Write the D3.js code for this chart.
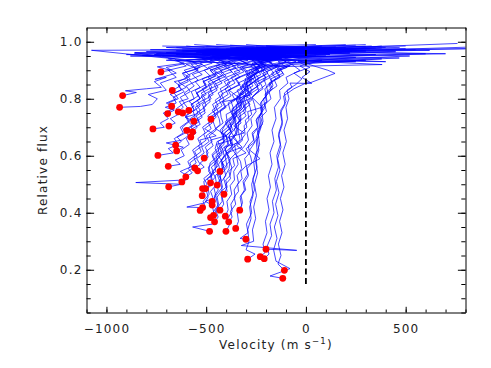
<!DOCTYPE html>
<html>
<head>
<meta charset="utf-8">
<script src="https://d3js.org/d3.v7.min.js"></script>
<style>
body { margin: 0; background: #fff; }
text { font-family: 'DejaVu Sans', sans-serif; font-size: 12px; letter-spacing: 1.2px; fill: #222; }
.axis path, .axis line { stroke: #000; stroke-width: 1; }
</style>
</head>
<body>
<script>
// line bisectors: [velocity (m/s), relative flux]; the first point of each is its lowest point (red dot)
const bisectors = [
  [[-727,0.894],[-680,0.90],[-745,0.912],[-610,0.925],[-690,0.94],[-480,0.952],[-800,0.965],[-250,0.975],[-560,0.99]],
  [[-919,0.811],[-850,0.822],[-905,0.828],[-800,0.835],[-725,0.84],[-760,0.86],[-700,0.875],[-757,0.868],[-650,0.89],[-700,0.91],[-560,0.93],[-858,0.962],[-350,0.97],[-600,0.985]],
  [[-934,0.770],[-830,0.773],[-770,0.78],[-745,0.80],[-790,0.815],[-700,0.83],[-730,0.855],[-650,0.875],[-690,0.90],[-600,0.915],[-660,0.94],[-1075,0.970],[850,0.975]],
  [[-670,0.829],[-630,0.845],[-660,0.86],[-600,0.87],[-620,0.89],[-540,0.905],[-600,0.92],[-470,0.94],[-650,0.955],[-300,0.968],[-700,0.98],[50,0.99]],
  [[-673,0.774],[-700,0.785],[-650,0.80],[-680,0.815],[-625,0.83],[-640,0.85],[-580,0.87],[-615,0.89],[-530,0.91],[-570,0.93],[-420,0.948],[-700,0.96],[0,0.978]],
  [[-693,0.748],[-660,0.76],[-705,0.77],[-650,0.785],[-665,0.805],[-610,0.825],[-640,0.845],[-590,0.86],[-600,0.88],[-540,0.90],[-575,0.92],[-430,0.94],[-760,0.955],[-150,0.968],[-500,0.982]],
  [[-640,0.754],[-615,0.77],[-635,0.79],[-590,0.80],[-610,0.82],[-560,0.845],[-585,0.865],[-520,0.885],[-560,0.905],[-470,0.925],[-520,0.94],[-300,0.955],[-620,0.968],[300,0.984]],
  [[-618,0.750],[-590,0.765],[-612,0.785],[-560,0.80],[-575,0.825],[-530,0.84],[-555,0.86],[-480,0.88],[-510,0.9],[-430,0.92],[-480,0.935],[-200,0.952],[-520,0.965],[-50,0.98]],
  [[-587,0.759],[-560,0.775],[-585,0.79],[-540,0.81],[-555,0.83],[-500,0.85],[-520,0.87],[-450,0.89],[-490,0.91],[-380,0.93],[-560,0.945],[-150,0.96],[-480,0.972],[200,0.99]],
  [[-562,0.721],[-605,0.735],[-555,0.745],[-530,0.76],[-550,0.78],[-505,0.80],[-525,0.82],[-470,0.84],[-490,0.86],[-420,0.88],[-460,0.90],[-370,0.92],[-430,0.935],[-100,0.95],[-550,0.963],[350,0.978]],
  [[-476,0.728],[-455,0.745],[-470,0.76],[-440,0.775],[-455,0.795],[-415,0.815],[-430,0.835],[-380,0.855],[-400,0.875],[-330,0.895],[-370,0.915],[-260,0.935],[-430,0.95],[100,0.965],[-350,0.98]],
  [[-767,0.694],[-710,0.70],[-730,0.715],[-690,0.73],[-715,0.75],[-660,0.765],[-690,0.785],[-640,0.80],[-660,0.82],[-600,0.84],[-640,0.86],[-580,0.88],[-610,0.90],[-520,0.92],[-600,0.935],[-380,0.95],[-700,0.962],[-100,0.975],[-450,0.99]],
  [[-687,0.704],[-655,0.715],[-680,0.73],[-640,0.745],[-650,0.765],[-610,0.785],[-630,0.805],[-580,0.825],[-600,0.845],[-540,0.865],[-570,0.885],[-490,0.905],[-530,0.925],[-400,0.94],[-600,0.955],[-200,0.968],[400,0.98]],
  [[-597,0.689],[-570,0.705],[-590,0.72],[-555,0.735],[-565,0.755],[-530,0.775],[-545,0.795],[-500,0.815],[-520,0.835],[-460,0.855],[-490,0.875],[-420,0.895],[-450,0.915],[-330,0.935],[-480,0.95],[-50,0.965],[-380,0.978],[250,0.988]],
  [[-568,0.684],[-545,0.70],[-560,0.715],[-520,0.735],[-535,0.755],[-500,0.775],[-510,0.795],[-465,0.815],[-480,0.835],[-420,0.855],[-445,0.875],[-370,0.895],[-410,0.915],[-290,0.935],[-470,0.95],[150,0.965],[-250,0.985]],
  [[-577,0.666],[-550,0.68],[-570,0.695],[-530,0.71],[-545,0.73],[-505,0.75],[-515,0.77],[-480,0.79],[-490,0.81],[-445,0.83],[-460,0.85],[-400,0.87],[-425,0.89],[-350,0.91],[-390,0.93],[-250,0.948],[-520,0.96],[760,0.994]],
  [[-653,0.637],[-625,0.65],[-645,0.665],[-605,0.68],[-620,0.70],[-585,0.72],[-600,0.74],[-560,0.76],[-575,0.78],[-530,0.80],[-550,0.82],[-500,0.84],[-515,0.86],[-450,0.88],[-480,0.90],[-400,0.92],[-460,0.94],[-250,0.955],[-650,0.968],[150,0.982]],
  [[-648,0.617],[-615,0.63],[-700,0.645],[-620,0.655],[-590,0.67],[-605,0.69],[-565,0.71],[-580,0.73],[-540,0.75],[-555,0.77],[-510,0.79],[-525,0.81],[-475,0.83],[-490,0.85],[-430,0.87],[-455,0.89],[-380,0.91],[-420,0.93],[-200,0.948],[-520,0.96],[0,0.972],[-380,0.988]],
  [[-742,0.601],[-665,0.61],[-690,0.625],[-640,0.64],[-660,0.66],[-615,0.68],[-630,0.70],[-590,0.72],[-605,0.74],[-560,0.76],[-575,0.78],[-530,0.80],[-545,0.82],[-495,0.84],[-515,0.86],[-455,0.88],[-480,0.90],[-400,0.92],[-440,0.94],[-180,0.955],[-600,0.968],[200,0.98]],
  [[-510,0.592],[-490,0.61],[-505,0.63],[-470,0.65],[-485,0.67],[-450,0.69],[-460,0.71],[-470,0.73],[-440,0.75],[-400,0.77],[-415,0.79],[-330,0.80],[-385,0.83],[-330,0.85],[-350,0.87],[-280,0.89],[-320,0.91],[382,0.92],[-380,0.945],[0,0.96],[-450,0.972],[470,0.98]],
  [[-690,0.563],[-630,0.57],[-655,0.585],[-610,0.60],[-625,0.62],[-585,0.64],[-600,0.66],[-560,0.68],[-575,0.70],[-535,0.72],[-550,0.74],[-505,0.76],[-520,0.78],[-475,0.80],[-490,0.82],[-440,0.84],[-460,0.86],[-400,0.88],[-430,0.90],[-340,0.92],[-390,0.94],[-120,0.955],[-560,0.966],[300,0.99]],
  [[-557,0.557],[-530,0.57],[-548,0.59],[-510,0.61],[-522,0.63],[-485,0.65],[-500,0.67],[-460,0.69],[-430,0.71],[-435,0.73],[-448,0.75],[-405,0.77],[-420,0.79],[-375,0.81],[-390,0.83],[-335,0.85],[-355,0.87],[-290,0.89],[-330,0.91],[-220,0.93],[-300,0.945],[50,0.96],[-400,0.975]],
  [[-543,0.547],[-510,0.56],[-530,0.575],[-490,0.595],[-500,0.615],[-465,0.635],[-478,0.655],[-400,0.67],[-452,0.695],[-415,0.715],[-425,0.735],[-430,0.76],[-400,0.775],[-355,0.795],[-370,0.815],[-320,0.835],[-340,0.855],[-280,0.875],[-305,0.895],[-230,0.915],[-270,0.935],[-80,0.95],[-350,0.965],[500,0.976]],
  [[-431,0.545],[-410,0.565],[-425,0.585],[-395,0.605],[-405,0.625],[-375,0.645],[-385,0.665],[-310,0.68],[-362,0.705],[-325,0.725],[-338,0.745],[-300,0.765],[-312,0.785],[-310,0.81],[-285,0.825],[-240,0.845],[-255,0.865],[-200,0.885],[-225,0.905],[-150,0.925],[468,0.943],[-280,0.955],[100,0.968],[380,0.985]],
  [[-602,0.526],[-570,0.54],[-590,0.555],[-550,0.575],[-562,0.595],[-525,0.615],[-538,0.635],[-500,0.655],[-512,0.675],[-475,0.695],[-488,0.715],[-450,0.735],[-462,0.755],[-420,0.775],[-435,0.795],[-390,0.815],[-405,0.835],[-355,0.855],[-375,0.875],[-310,0.895],[-345,0.915],[-250,0.935],[-420,0.95],[-20,0.965],[-650,0.98]],
  [[-622,0.508],[-590,0.52],[-610,0.535],[-570,0.555],[-582,0.575],[-545,0.595],[-558,0.615],[-520,0.635],[-532,0.655],[-450,0.67],[-508,0.695],[-470,0.715],[-482,0.735],[-440,0.755],[-455,0.775],[-410,0.795],[-425,0.815],[-375,0.835],[-395,0.855],[-330,0.875],[-360,0.895],[-270,0.915],[-330,0.935],[-60,0.952],[-500,0.965],[120,0.98]],
  [[-688,0.491],[-625,0.50],[-853,0.506],[-610,0.515],[-595,0.53],[-630,0.545],[-580,0.56],[-592,0.58],[-555,0.60],[-568,0.62],[-530,0.64],[-542,0.66],[-505,0.68],[-518,0.70],[-480,0.72],[-492,0.74],[-455,0.76],[-468,0.78],[-425,0.80],[-440,0.82],[-390,0.84],[-410,0.86],[-350,0.88],[-380,0.90],[-290,0.92],[-340,0.94],[-100,0.955],[-480,0.968],[80,0.985]],
  [[-478,0.505],[-455,0.525],[-470,0.545],[-440,0.565],[-450,0.585],[-420,0.605],[-430,0.625],[-440,0.65],[-410,0.665],[-378,0.685],[-390,0.705],[-355,0.725],[-368,0.745],[-330,0.765],[-342,0.785],[-350,0.80],[-315,0.825],[-265,0.845],[-285,0.865],[-225,0.885],[-255,0.905],[-170,0.925],[-240,0.942],[120,0.958],[-300,0.97]],
  [[-445,0.497],[-425,0.515],[-440,0.535],[-410,0.555],[-420,0.575],[-390,0.595],[-400,0.615],[-368,0.635],[-380,0.655],[-348,0.675],[-360,0.695],[-325,0.715],[-338,0.735],[-300,0.755],[-312,0.775],[-272,0.795],[-285,0.815],[-240,0.835],[-258,0.855],[-200,0.875],[-228,0.895],[-140,0.915],[-200,0.935],[400,0.93],[-380,0.952],[60,0.965],[900,0.983]],
  [[-518,0.485],[-495,0.50],[-512,0.52],[-478,0.54],[-490,0.56],[-458,0.58],[-470,0.60],[-436,0.62],[-448,0.64],[-370,0.655],[-426,0.68],[-392,0.70],[-404,0.72],[-368,0.74],[-380,0.76],[-390,0.785],[-355,0.80],[-312,0.82],[-328,0.84],[-278,0.86],[-300,0.88],[-235,0.90],[-270,0.92],[-170,0.94],[-470,0.955],[250,0.97],[-200,0.985]],
  [[-503,0.485],[-478,0.50],[-495,0.52],[-462,0.54],[-474,0.56],[-440,0.58],[-452,0.60],[-418,0.62],[-430,0.64],[-396,0.66],[-408,0.68],[-372,0.70],[-385,0.72],[-348,0.74],[-360,0.76],[-320,0.78],[-333,0.80],[-290,0.82],[-305,0.84],[-255,0.86],[-278,0.88],[-210,0.90],[-245,0.92],[-140,0.94],[-330,0.955],[900,0.978]],
  [[-520,0.460],[-505,0.48],[-512,0.51],[-470,0.53],[-488,0.545],[-480,0.575],[-440,0.60],[-455,0.625],[-445,0.65],[-410,0.66],[-420,0.69],[-395,0.72],[-400,0.745],[-360,0.76],[-375,0.79],[-330,0.81],[-345,0.83],[-300,0.845],[-290,0.87],[-250,0.885],[-275,0.90],[-200,0.915],[-250,0.935],[-20,0.95],[-420,0.962],[200,0.975]],
  [[-411,0.465],[-395,0.49],[-402,0.515],[-380,0.53],[-372,0.56],[-385,0.585],[-350,0.61],[-358,0.64],[-330,0.655],[-338,0.685],[-350,0.71],[-300,0.74],[-315,0.76],[-280,0.78],[-300,0.80],[-270,0.83],[-230,0.85],[-245,0.87],[-190,0.89],[-210,0.905],[-130,0.925],[300,0.935],[-260,0.95],[450,0.965],[-150,0.978]],
  [[-470,0.440],[-452,0.46],[-460,0.485],[-432,0.51],[-445,0.535],[-418,0.55],[-425,0.58],[-400,0.61],[-408,0.63],[-340,0.645],[-372,0.68],[-385,0.70],[-350,0.72],[-358,0.75],[-325,0.77],[-335,0.79],[-300,0.81],[-308,0.835],[-268,0.855],[-280,0.875],[-232,0.895],[-255,0.91],[-180,0.93],[-300,0.945],[220,0.96],[-620,0.975]],
  [[-470,0.427],[-505,0.44],[-465,0.45],[-478,0.475],[-448,0.50],[-455,0.53],[-430,0.545],[-438,0.57],[-410,0.60],[-418,0.625],[-392,0.64],[-400,0.67],[-368,0.69],[-378,0.715],[-345,0.74],[-352,0.765],[-320,0.785],[-330,0.81],[-290,0.83],[-298,0.855],[-255,0.875],[-270,0.895],[-205,0.915],[-240,0.935],[-60,0.95],[-480,0.962],[130,0.975],[-720,0.985]],
  [[-518,0.418],[-597,0.42],[-505,0.435],[-490,0.455],[-500,0.48],[-470,0.50],[-478,0.53],[-452,0.545],[-458,0.575],[-430,0.60],[-440,0.62],[-410,0.64],[-418,0.67],[-430,0.69],[-398,0.715],[-365,0.735],[-372,0.76],[-340,0.78],[-350,0.80],[-270,0.815],[-322,0.845],[-280,0.865],[-295,0.885],[-240,0.905],[-270,0.925],[-150,0.942],[-400,0.958],[60,0.97],[-300,0.99]],
  [[-530,0.408],[-505,0.42],[-515,0.44],[-485,0.465],[-492,0.49],[-468,0.51],[-476,0.535],[-448,0.56],[-455,0.585],[-470,0.605],[-436,0.63],[-408,0.65],[-415,0.675],[-385,0.695],[-393,0.72],[-362,0.74],[-370,0.765],[-336,0.785],[-345,0.81],[-305,0.83],[-318,0.85],[-270,0.87],[-288,0.89],[-225,0.91],[-260,0.93],[-120,0.945],[-350,0.958],[300,0.968]],
  [[-431,0.409],[-412,0.43],[-420,0.455],[-395,0.475],[-402,0.50],[-378,0.52],[-386,0.545],[-358,0.565],[-366,0.59],[-300,0.61],[-346,0.635],[-318,0.655],[-326,0.68],[-296,0.70],[-304,0.725],[-272,0.745],[-280,0.77],[-290,0.79],[-256,0.815],[-215,0.835],[-228,0.855],[-180,0.875],[-198,0.895],[-130,0.915],[-650,0.935],[50,0.95],[-250,0.962],[550,0.972]],
  [[-332,0.409],[-318,0.435],[-325,0.46],[-302,0.48],[-310,0.505],[-288,0.53],[-295,0.555],[-270,0.575],[-278,0.60],[-300,0.625],[-262,0.645],[-236,0.665],[-244,0.69],[-218,0.71],[-226,0.735],[-198,0.755],[-206,0.78],[-175,0.80],[-185,0.825],[-145,0.845],[-158,0.865],[-110,0.885],[-130,0.905],[-60,0.925],[250,0.93],[-500,0.945],[120,0.955],[-180,0.966],[380,0.978]],
  [[-463,0.391],[-440,0.42],[-452,0.46],[-418,0.49],[-430,0.53],[-395,0.56],[-405,0.60],[-372,0.63],[-385,0.67],[-350,0.70],[-360,0.74],[-322,0.77],[-335,0.81],[-290,0.84],[-305,0.87],[-240,0.895],[-275,0.915],[-170,0.935],[-720,0.95],[180,0.963],[-150,0.978]],
  [[-478,0.383],[-462,0.40],[-468,0.42],[-455,0.44],[-458,0.46],[-440,0.48],[-445,0.50],[-428,0.52],[-432,0.54],[-415,0.56],[-420,0.58],[-440,0.60],[-406,0.62],[-388,0.64],[-393,0.66],[-375,0.68],[-380,0.70],[-360,0.72],[-366,0.74],[-345,0.76],[-350,0.78],[-280,0.80],[-332,0.82],[-300,0.84],[-310,0.86],[-265,0.88],[-285,0.90],[-210,0.92],[-250,0.94],[350,0.955],[-500,0.968],[100,0.98]],
  [[-458,0.368],[-440,0.385],[-452,0.41],[-420,0.44],[-425,0.475],[-400,0.49],[-412,0.52],[-385,0.555],[-380,0.59],[-398,0.61],[-320,0.63],[-368,0.665],[-340,0.69],[-335,0.725],[-350,0.745],[-312,0.77],[-320,0.80],[-285,0.815],[-292,0.845],[-250,0.865],[-262,0.885],[-205,0.905],[-230,0.925],[-120,0.942],[-280,0.955],[230,0.966],[-100,0.982]],
  [[-404,0.388],[-390,0.41],[-396,0.44],[-372,0.465],[-380,0.495],[-358,0.515],[-362,0.545],[-340,0.57],[-348,0.60],[-370,0.625],[-330,0.65],[-305,0.675],[-310,0.705],[-285,0.725],[-292,0.755],[-220,0.77],[-270,0.805],[-236,0.825],[-245,0.85],[-200,0.87],[-215,0.89],[-150,0.91],[-185,0.93],[-40,0.948],[-500,0.96],[620,0.97],[-200,0.985]],
  [[-387,0.368],[-370,0.385],[-378,0.405],[-352,0.43],[-360,0.455],[-338,0.475],[-342,0.50],[-320,0.52],[-326,0.545],[-300,0.565],[-307,0.59],[-282,0.61],[-289,0.635],[-262,0.655],[-270,0.68],[-242,0.70],[-250,0.725],[-222,0.745],[-228,0.77],[-198,0.79],[-205,0.815],[-168,0.835],[-180,0.855],[-130,0.875],[-150,0.895],[-80,0.915],[-700,0.935],[100,0.95],[-200,0.962],[320,0.975]],
  [[-352,0.345],[-338,0.37],[-344,0.40],[-322,0.425],[-330,0.455],[-308,0.48],[-315,0.51],[-292,0.535],[-298,0.565],[-230,0.59],[-282,0.62],[-258,0.645],[-265,0.675],[-240,0.70],[-247,0.73],[-220,0.755],[-228,0.785],[-198,0.81],[-206,0.835],[-170,0.855],[-182,0.875],[-130,0.895],[-152,0.915],[-70,0.935],[-880,0.95],[150,0.962],[-40,0.975]],
  [[-483,0.335],[-568,0.35],[-470,0.36],[-455,0.38],[-462,0.405],[-438,0.43],[-445,0.455],[-420,0.48],[-428,0.505],[-402,0.53],[-410,0.555],[-385,0.58],[-392,0.605],[-365,0.63],[-372,0.655],[-345,0.68],[-352,0.705],[-325,0.73],[-332,0.755],[-300,0.78],[-310,0.805],[-272,0.83],[-285,0.85],[-235,0.87],[-255,0.89],[-185,0.91],[-225,0.93],[-80,0.948],[-860,0.96],[180,0.975]],
  [[-401,0.335],[-385,0.355],[-392,0.38],[-370,0.405],[-376,0.43],[-355,0.455],[-360,0.48],[-338,0.505],[-345,0.53],[-322,0.555],[-328,0.58],[-350,0.605],[-312,0.63],[-288,0.655],[-295,0.68],[-270,0.705],[-276,0.73],[-250,0.755],[-258,0.78],[-270,0.805],[-236,0.83],[-200,0.85],[-212,0.87],[-160,0.89],[-185,0.91],[-100,0.93],[-150,0.945],[700,0.958],[-280,0.97],[330,0.985]],
  [[-301,0.307],[-330,0.31],[-290,0.33],[-298,0.36],[-272,0.40],[-280,0.44],[-258,0.48],[-266,0.52],[-245,0.56],[-252,0.60],[-232,0.64],[-240,0.68],[-215,0.72],[-222,0.76],[-195,0.79],[-202,0.82],[-165,0.845],[-175,0.87],[-115,0.89],[-140,0.91],[-50,0.93],[-120,0.945],[600,0.958],[-780,0.972],[500,0.985]],
  [[-200,0.272],[-46,0.268],[-324,0.285],[-262,0.30],[-268,0.34],[-252,0.38],[-262,0.42],[-248,0.46],[-258,0.50],[-242,0.54],[-252,0.58],[-236,0.62],[-244,0.66],[-225,0.70],[-232,0.74],[-205,0.77],[-212,0.80],[-175,0.83],[-185,0.855],[-130,0.88],[-155,0.90],[-70,0.92],[-130,0.94],[-900,0.955],[300,0.968],[-250,0.98]],
  [[-292,0.237],[-255,0.255],[-300,0.27],[-285,0.30],[-292,0.34],[-275,0.38],[-282,0.42],[-265,0.46],[-272,0.50],[-255,0.54],[-262,0.58],[-245,0.62],[-250,0.66],[-232,0.70],[-238,0.73],[-218,0.76],[-222,0.79],[-190,0.82],[-198,0.845],[-150,0.87],[-172,0.89],[-95,0.91],[-140,0.93],[30,0.948],[-220,0.96],[150,0.972]],
  [[-229,0.246],[-205,0.26],[-215,0.29],[-195,0.33],[-203,0.37],[-185,0.41],[-195,0.45],[-178,0.49],[-188,0.53],[-170,0.57],[-180,0.61],[-160,0.65],[-170,0.69],[-150,0.73],[-158,0.77],[-128,0.80],[-132,0.83],[-90,0.855],[-100,0.875],[-30,0.90],[-70,0.92],[380,0.94],[-600,0.955],[200,0.968]],
  [[-209,0.239],[-185,0.255],[-196,0.28],[-172,0.32],[-180,0.36],[-160,0.40],[-168,0.44],[-148,0.48],[-156,0.52],[-138,0.56],[-146,0.60],[-128,0.64],[-136,0.68],[-118,0.72],[-126,0.76],[-100,0.79],[-108,0.82],[-70,0.84],[-80,0.855],[0,0.854],[29,0.854],[-20,0.875],[20,0.895],[-30,0.915],[80,0.935],[-820,0.952],[220,0.962]],
  [[-108,0.198],[-140,0.22],[-125,0.25],[-138,0.29],[-120,0.33],[-132,0.37],[-115,0.41],[-128,0.45],[-110,0.49],[-122,0.53],[-104,0.57],[-116,0.61],[-98,0.65],[-110,0.69],[-92,0.73],[-100,0.77],[-85,0.80],[-95,0.83],[-50,0.85],[-20,0.87],[-60,0.89],[20,0.91],[-40,0.93],[250,0.945],[-750,0.958],[100,0.972]],
  [[-116,0.170],[-180,0.178],[-80,0.204],[-150,0.23],[-162,0.27],[-145,0.31],[-158,0.35],[-140,0.39],[-152,0.43],[-135,0.47],[-148,0.51],[-130,0.55],[-142,0.59],[-125,0.63],[-138,0.67],[-118,0.71],[-128,0.75],[-105,0.78],[-112,0.81],[-60,0.835],[0,0.855],[25,0.857],[146,0.889],[110,0.90],[40,0.915],[-40,0.935],[520,0.95],[-300,0.965]]
];

const xMajor = [-1000, -500, 0, 500];
const yMajor = [0.2, 0.4, 0.6, 0.8, 1.0];
const zeroLine = [[0, 0.15], [0, 1.0]];

const width = 491, height = 368;
const x0 = 86.5, x1 = 465.5, y0 = 312.5, y1 = 27.5;

const svg = d3.select('body').append('svg').attr('width', width).attr('height', height);

const x = d3.scaleLinear().domain([-1100, 800]).range([x0, x1]);
const y = d3.scaleLinear().domain([0.05, 1.05]).range([y0, y1]);

const xMinor = d3.range(-1100, 801, 100);
const yMinor = d3.range(1, 21).map(i => i * 0.05);

svg.append('clipPath').attr('id', 'plot')
    .append('rect').attr('x', x0).attr('y', y1).attr('width', x1 - x0).attr('height', y0 - y1);

const plot = svg.append('g').attr('clip-path', 'url(#plot)');
const line = d3.line().x(d => x(d[0])).y(d => y(d[1]));

plot.append('g').selectAll('path').data(bisectors).enter().append('path')
    .attr('d', line)
    .attr('fill', 'none')
    .attr('stroke', '#0000ff')
    .attr('stroke-opacity', 0.8)
    .attr('stroke-width', 0.9);

plot.append('path')
    .attr('d', line(zeroLine))
    .attr('stroke', '#000')
    .attr('stroke-width', 1.8)
    .attr('stroke-dasharray', '6,3.5');

plot.append('g').selectAll('circle').data(bisectors.map(b => b[0])).enter().append('circle')
    .attr('cx', d => x(d[0]))
    .attr('cy', d => y(d[1]))
    .attr('r', 3.4)
    .attr('fill', '#ff0000');

// axes: ticks point inward on all four sides, labels only bottom and left
function drawAxis(axisFn, scale, minor, major, majorLen, minorLen, pos, labels, fmt, pad) {
    svg.append('g').attr('class', 'axis').attr('transform', pos)
        .call(axisFn(scale).tickValues(minor).tickSize(-minorLen).tickSizeOuter(0).tickFormat(''));
    const m = svg.append('g').attr('class', 'axis').attr('transform', pos)
        .call(axisFn(scale).tickValues(major).tickSize(-majorLen).tickSizeOuter(0).tickPadding(pad).tickFormat(labels ? fmt : ''));
    m.select('.domain').remove();
    m.selectAll('text').attr('font-family', null).attr('font-size', null).attr('fill', '#222');
}

const fx = d3.format('d');
const fy = d3.format('.1f');
drawAxis(d3.axisBottom, x, xMinor, xMajor, 5.7, 3, `translate(0,${y0})`, true, fx, 12);
drawAxis(d3.axisTop, x, xMinor, xMajor, 5.7, 3, `translate(0,${y1})`, false, fx, 4);
drawAxis(d3.axisLeft, y, yMinor, yMajor, 7.6, 4.2, `translate(${x0},0)`, true, fy, 4);
drawAxis(d3.axisRight, y, yMinor, yMajor, 7.6, 4.2, `translate(${x1},0)`, false, fy, 4);

const xt = svg.append('text')
    .attr('x', (x0 + x1) / 2)
    .attr('y', 349)
    .attr('text-anchor', 'middle');
xt.append('tspan').text('Velocity (m s');
xt.append('tspan').attr('font-size', '8.5px').attr('dy', -5).text('\u22121');
xt.append('tspan').attr('dy', 5).text(')');

svg.append('text')
    .attr('transform', `translate(46.5,${(y0 + y1) / 2}) rotate(-90)`)
    .attr('text-anchor', 'middle')
    .text('Relative flux');
</script>
</body>
</html>
